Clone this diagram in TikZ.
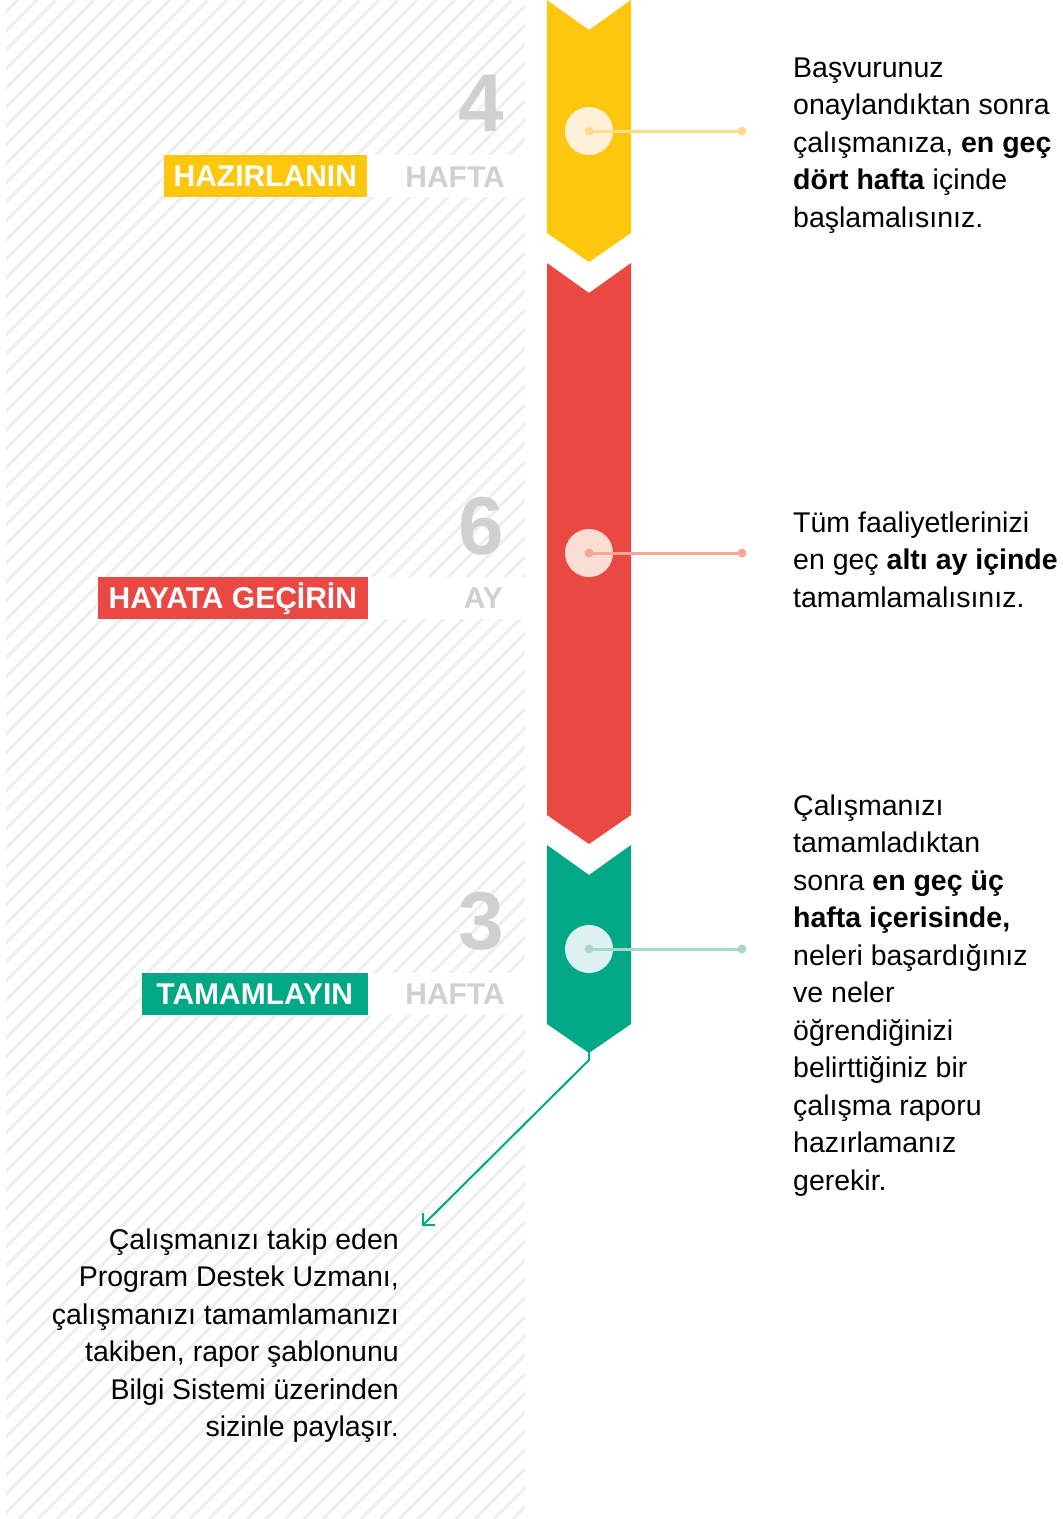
\documentclass[tikz,border=0pt]{standalone}
\usepackage{fontspec}
\setmainfont{Liberation Sans}
\usetikzlibrary{arrows.meta}
\definecolor{tyellow}{HTML}{FCC70C}
\definecolor{tyellowlt}{HTML}{FEF1D8}
\definecolor{tyellowln}{HTML}{FDDC8C}
\definecolor{tred}{HTML}{EA4843}
\definecolor{tredlt}{HTML}{FADDD4}
\definecolor{tredln}{HTML}{F6A894}
\definecolor{tgreen}{HTML}{01A886}
\definecolor{tgreenlt}{HTML}{DFF0F2}
\definecolor{tgreenln}{HTML}{A8D8C6}
\definecolor{numgray}{HTML}{D0D0D0}
\definecolor{hatchgray}{HTML}{EFEFEF}
\tikzset{
  body/.style={font=\fontsize{28.5}{37.5}\selectfont, inner sep=0pt, align=left},
  phasebox/.style={font=\fontsize{30}{30}\selectfont\bfseries, text=white, inner sep=0pt,
    minimum height=42pt, text height=21.5pt, text depth=0pt, anchor=east},
  unittext/.style={font=\fontsize{30}{30}\selectfont\bfseries, text=numgray, inner sep=0pt,
    text height=21.5pt, text depth=0pt, anchor=east},
  bignum/.style={font=\fontsize{82}{82}\selectfont\bfseries, text=numgray, inner sep=0pt, anchor=east},
  ring/.style={circle, minimum size=48pt, inner sep=0pt},
  tipdot/.style={circle, minimum size=9pt, inner sep=0pt}
}
\begin{document}
\begin{tikzpicture}[x=1pt,y=-1pt]
  \useasboundingbox (0,0) rectangle (1063,1519);
  % hatched band
  \begin{scope}
    \clip (6,0) rectangle (525,1519);
    \foreach \i in {-1520,-1501,...,530}
      \draw[hatchgray, line width=3pt] (\i,1519) -- (\i+1519,0);
  \end{scope}
  \fill[white] (367,155) rectangle (525,197);
  \fill[white] (368,577) rectangle (525,619);
  \fill[white] (368,973) rectangle (525,1015);
  % chevrons
  \foreach \a/\b/\c in {0/233/tyellow, 263/815/tred, 845/1024/tgreen}
    \fill[\c] (547,\a) -- (589,\a+30) -- (631,\a) -- (631,\b) -- (589,\b+29) -- (547,\b) -- cycle;
  % durations
  \node[bignum] (n1) at (504,103.5) {4};
  \node[unittext] (u1) at (505,177) {HAFTA};
  \node[bignum] (n2) at (504,526) {6};
  \node[unittext] (u2) at (503,598) {AY};
  \node[bignum] (n3) at (504,921.5) {3};
  \node[unittext] (u3) at (505,994) {HAFTA};
  % phases
  \node[phasebox, fill=tyellow, minimum width=203pt] (p1) at (367,176) {HAZIRLANIN};
  \node[phasebox, fill=tred, minimum width=270pt] (p2) at (368,598) {HAYATA GEÇİRİN};
  \node[phasebox, fill=tgreen, minimum width=226pt] (p3) at (368,994) {TAMAMLAYIN};
  % markers
  \node[ring, fill=tyellowlt] (c1) at (589,131) {};
  \node[ring, fill=tredlt] (c2) at (589,553) {};
  \node[ring, fill=tgreenlt] (c3) at (589,949) {};
  \node[tipdot, fill=tyellowln] (d1) at (589,131) {};
  \node[tipdot, fill=tredln] (d2) at (589,553) {};
  \node[tipdot, fill=tgreenln] (d3) at (589,949) {};
  \node[tipdot, fill=tyellowln] (e1) at (742,131) {};
  \node[tipdot, fill=tredln] (e2) at (742,553) {};
  \node[tipdot, fill=tgreenln] (e3) at (742,949) {};
  \draw[tyellowln, line width=3pt] (d1.center) -- (e1.center);
  \draw[tredln, line width=3pt] (d2.center) -- (e2.center);
  \draw[tgreenln, line width=3pt] (d3.center) -- (e3.center);
  % texts
  \node[body, anchor=north west] (t1) at (793,50.75)
    {\strut Başvurunuz\\onaylandıktan sonra\\çalışmanıza, \textbf{en geç}\\\textbf{dört hafta} içinde\\başlamalısınız.};
  \node[body, anchor=north west] (t2) at (793,505.75)
    {\strut Tüm faaliyetlerinizi\\en geç \textbf{altı ay içinde}\\tamamlamalısınız.};
  \node[body, anchor=north west] (t3) at (793,788.75)
    {\strut Çalışmanızı\\tamamladıktan\\sonra \textbf{en geç üç}\\\textbf{hafta içerisinde,}\\neleri başardığınız\\ve neler\\öğrendiğinizi\\belirttiğiniz bir\\çalışma raporu\\hazırlamanız\\gerekir.};
  \node[body, align=right, anchor=north east] (t4) at (399,1222.75)
    {\strut Çalışmanızı takip eden\\Program Destek Uzmanı,\\çalışmanızı tamamlamanızı\\takiben, rapor şablonunu\\Bilgi Sistemi üzerinden\\sizinle paylaşır.};
  % hand-over arrow
  \coordinate (gtip) at (589,1052);
  \coordinate (gbend) at (589,1060);
  \coordinate (aend) at (422,1226);
  \draw[tgreen, line width=2pt, -{Straight Barb[angle=90:12pt]}] (gtip) -- (gbend) -- (aend);
\end{tikzpicture}
\end{document}
